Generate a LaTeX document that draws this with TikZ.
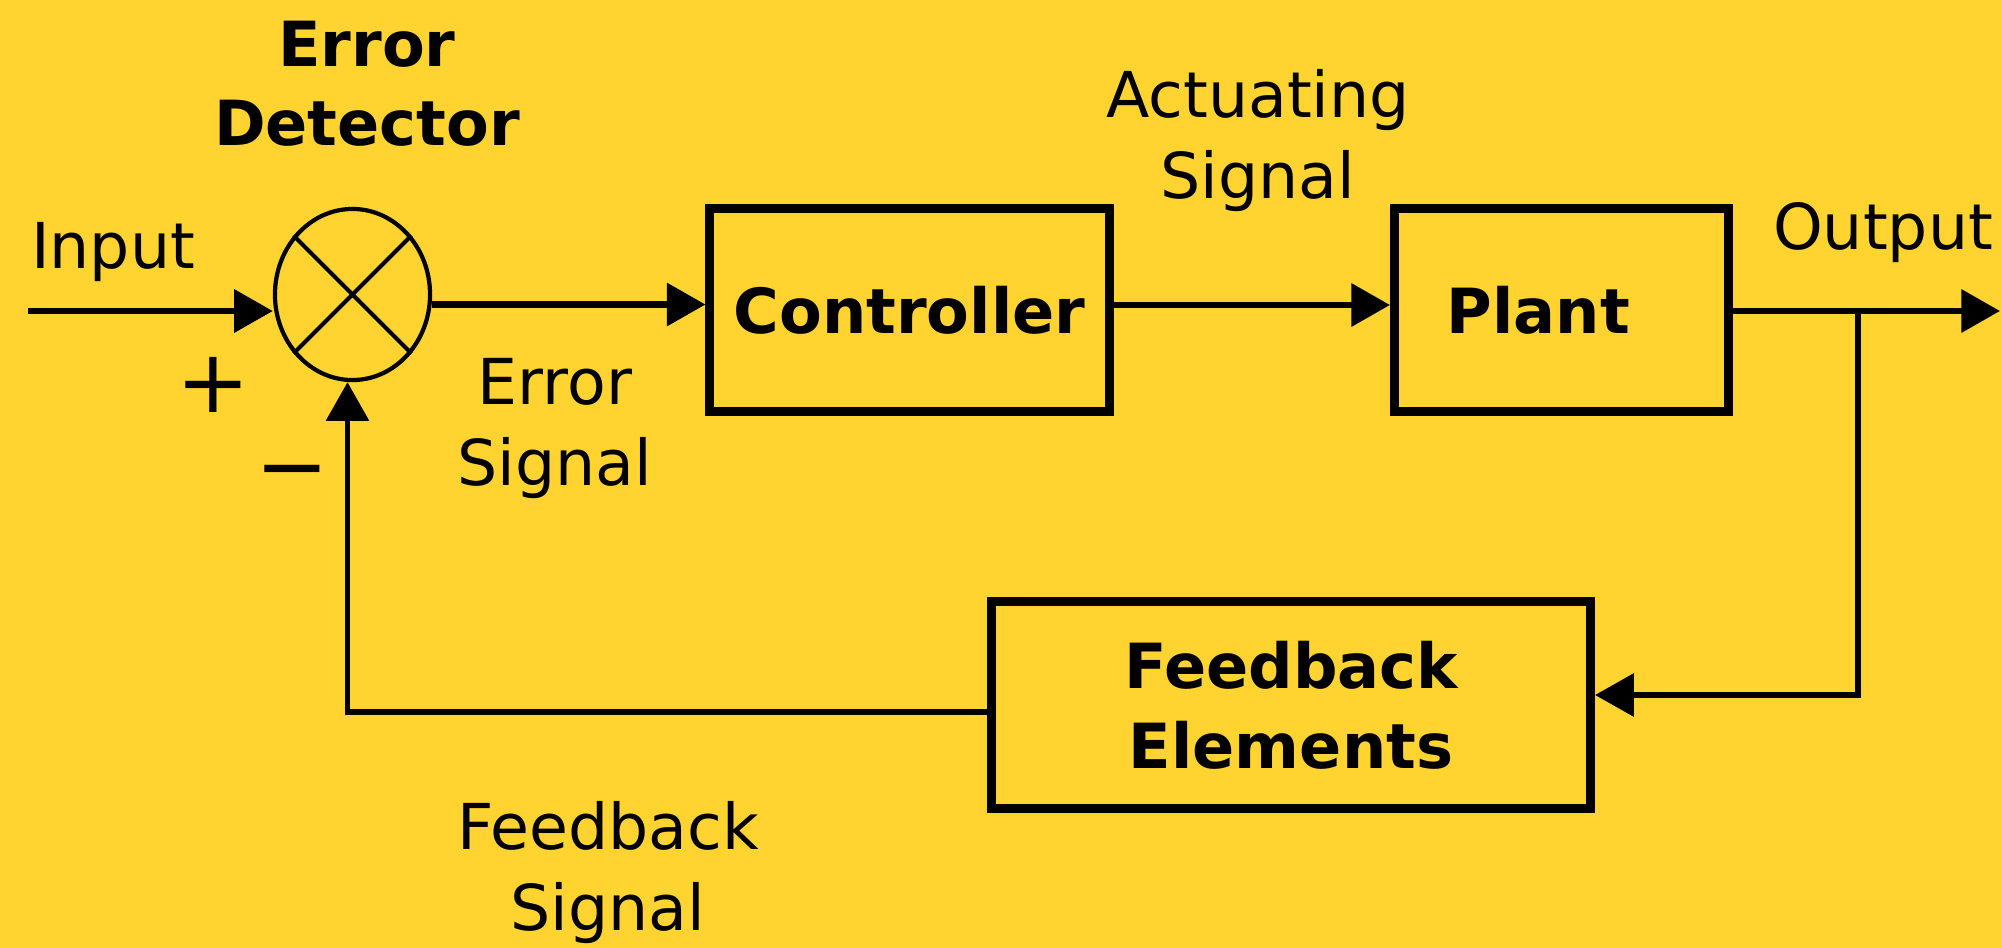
\documentclass[tikz,border=0pt]{standalone}
\usepackage{fontspec}
\setmainfont{DejaVu Sans}
\usetikzlibrary{arrows.meta,shapes.geometric,calc}
\definecolor{bgyellow}{HTML}{FFD431}
\begin{document}
\begin{tikzpicture}[x=0.01cm,y=-0.01cm,
  arr/.style={line width=1.8pt,-{Triangle[length=11pt,width=12pt]}},
  thinarr/.style={line width=1.5pt,-{Triangle[length=11pt,width=12pt]}},
  blk/.style={draw,line width=2.5pt,inner sep=0pt,font=\bfseries\fontsize{17.7pt}{22.8pt}\selectfont,align=center},
  lbl/.style={inner sep=0pt,font=\fontsize{18pt}{22.8pt}\selectfont,align=center,anchor=base},
  blbl/.style={inner sep=0pt,font=\bfseries\fontsize{17.7pt}{22.2pt}\selectfont,align=center,anchor=base},
  sgn/.style={inner sep=0pt,font=\fontsize{25pt}{30pt}\selectfont}]
\fill[bgyellow] (0,0) rectangle (2002,948);
\useasboundingbox (0,0) rectangle (2002,948);
% blocks
\node[draw,ellipse,line width=1.2pt,minimum width=1.55cm,minimum height=1.71cm,inner sep=0pt] (sum) at (352.5,294.5) {};
\draw[line width=1.2pt] (sum.45) -- (sum.225) (sum.135) -- (sum.-45);
\node[blk,minimum width=3.99cm,minimum height=2.03cm] (ctrl) at (909.5,310) {Controller};
\node[blk,minimum width=3.34cm,minimum height=2.03cm] (plant) at (1561.5,310) {Plant\hspace{0.46cm}};
\node[blk,minimum width=5.99cm,minimum height=2.07cm] (fb) at (1291,705) {Feedback\\Elements};
% free ends
\coordinate (in) at (28,311);
\coordinate (out) at (2000,311);
\coordinate (br) at (1858,311);
% connectors
\draw[arr] (in) -- (in -| sum.west);
\draw[arr] ([yshift=-0.1cm]sum.east) -- ([yshift=-0.1cm]sum.east -| ctrl.west);
\draw[arr] ([yshift=0.05cm]ctrl.east) -- ([yshift=0.05cm]ctrl.east -| plant.west);
\draw[arr] (plant.east |- out) -- (out);
\draw[thinarr] (br) |- ([yshift=0.1cm]fb.east);
\draw[thinarr] ([yshift=-0.07cm]fb.west) -| ([xshift=-0.05cm]sum.south);
% labels
\node[lbl] (tin) at (113,268) {Input};
\node[blbl] (ted) at (367,145) {Error\\Detector};
\node[sgn] (plus) at (213,385) {+};
\node[sgn] (minus) at (292,481) {−};
\node[lbl] (tes) at (555,485) {Error\\Signal};
\node[lbl] (tas) at (1258,198) {Actuating\\Signal};
\node[lbl] (tout) at (1883,249) {Output};
\node[lbl] (tfs) at (608,930) {Feedback\\Signal};
\end{tikzpicture}
\end{document}
